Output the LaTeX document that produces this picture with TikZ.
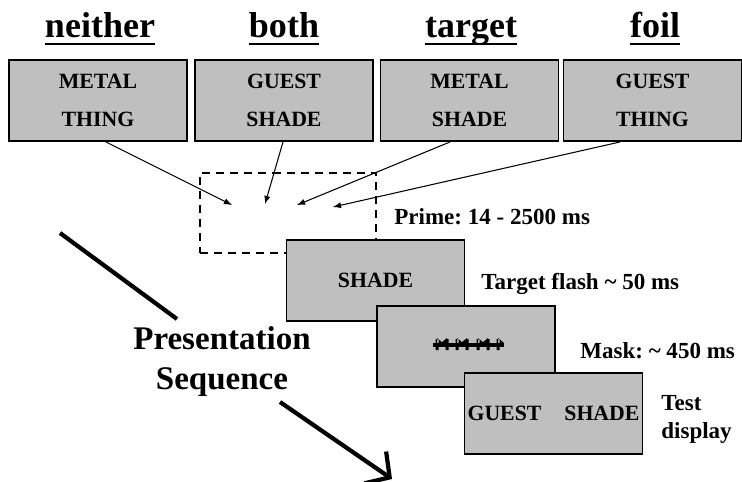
\documentclass[tikz,border=0pt]{standalone}
\usepackage{fontspec}
\setmainfont{Liberation Serif}
\usepackage{tikz}
\usetikzlibrary{calc}
\usetikzlibrary{arrows, arrows.meta}
\frenchspacing

\begin{document}
\begin{tikzpicture}[x=0.02cm,y=-0.02cm,>=latex,
    word/.style={draw, line width=1.1pt, fill=black!25, minimum width=3.56cm,
      minimum height=1.62cm, inner sep=0pt, align=center,
      font=\fontsize{12.4}{21.6}\selectfont\bfseries},
    cond/.style={inner sep=0pt, anchor=base, font=\fontsize{20.5}{24}\selectfont\bfseries},
    uline/.style={line width=1.2pt},
    timing/.style={inner sep=0pt, anchor=west, align=left,
      font=\fontsize{13.1}{15.9}\selectfont\bfseries},
    window/.style={draw, dash pattern=on 4.6pt off 3.4pt, line width=1.1pt,
      minimum width=3.52cm, minimum height=1.6cm, inner sep=0pt},
    seqline/.style={line width=2.4pt}]
  \useasboundingbox (0,0) rectangle (742,481);

  % conditions
  \node[cond] (h1) at (100,37) {neither};
  \node[cond] (h2) at (284,37) {both};
  \node[cond] (h3) at (471,37) {target};
  \node[cond] (h4) at (655,37) {foil};
  \foreach \h in {h1,h2,h3,h4}
    \draw[uline] ([yshift=-0.14cm]\h.base west) -- ([yshift=-0.14cm]\h.base east);

  \node[word] (neither) at (98,100.5)    {METAL\\THING};
  \node[word] (both)    at (284,100.5)   {GUEST\\SHADE};
  \node[word] (target)  at (469.5,100.5) {METAL\\SHADE};
  \node[word] (foil)    at (652.5,100.5) {GUEST\\THING};

  % prime window
  \node[window] (primewin) at (288,213) {};
  \coordinate (a1) at (232,205);
  \coordinate (a2) at (265,204);
  \coordinate (a3) at (297,205);
  \coordinate (a4) at (333,207);

  \path[->, line width=0.6pt]
        ($(neither.south)+(8,0)$)  edge (a1)
        ($(both.south)+(-1,0)$)    edge (a2)
        ($(target.south)+(-19.5,0)$) edge (a3)
        ($(foil.south)+(-32.5,0)$) edge (a4);

  \node[timing] (tprime) at (394,217) {Prime: 14 - 2500 ms};

  % presentation sequence
  \node[word] (flash) at (375.5,280.5) {SHADE};
  \node[timing] (tflash) at (481,284) {Target flash \textasciitilde{} 50 ms};

  \node[word] (mask) at (466,346.5) {};
  \draw[line width=1.8pt] (433,345) -- (504,345);
  \foreach \x/\s in {437/1,447/-1,457/1,467/-1,478/1,488/-1,498/1}
    \fill (\x-1.5,339) rectangle (\x+1.5,350)
          (\x,338) -- (\x+6*\s,343) -- (\x,347) -- cycle;
  \node[timing] (tmask) at (580,351) {Mask: \textasciitilde{} 450 ms};

  \node[word] (test) at (553.5,413.5) {GUEST\hspace{0.46cm}SHADE};
  \node[timing] (ttest) at (661,419) {Test\\display};

  \node[align=center, inner sep=0pt, font=\fontsize{18.8}{22.8}\selectfont\bfseries]
    (seq) at (222,362) {Presentation\\Sequence};
  \coordinate (s1) at (60,233);
  \coordinate (s2) at (177,319);
  \coordinate (s3) at (280,402);
  \coordinate (s4) at (392,479);
  \draw[seqline] (s1) -- (s2);
  \draw[seqline, -{Straight Barb[length=10pt,width=22pt]}] (s3) -- (s4);
\end{tikzpicture}
\end{document}
